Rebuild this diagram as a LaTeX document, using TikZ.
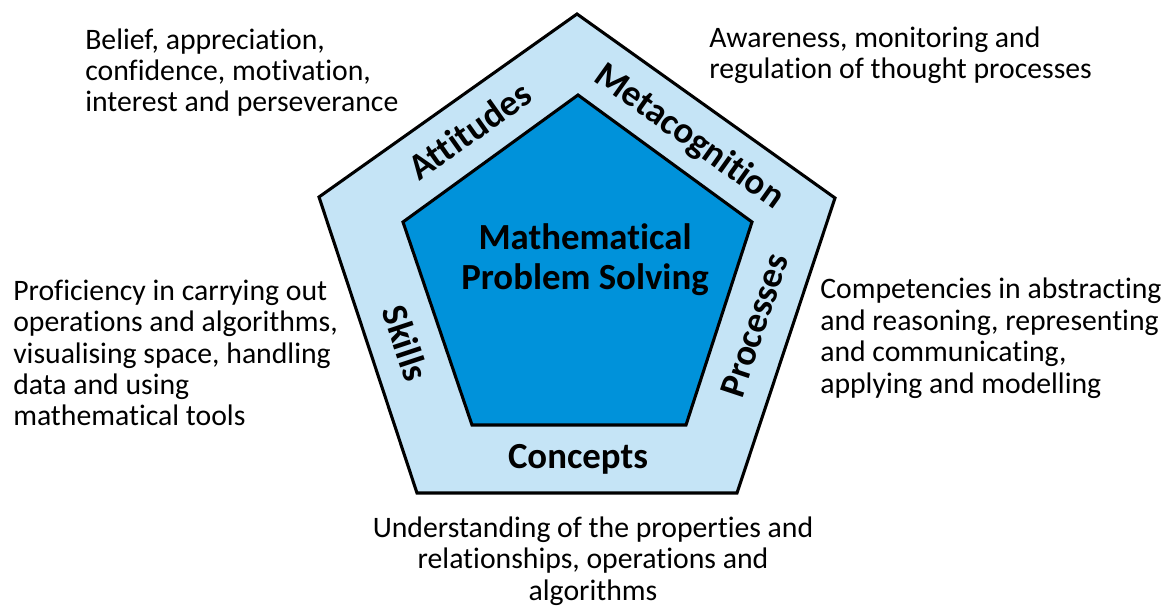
\documentclass[tikz,border=0pt]{standalone}
\usepackage{fontspec}
\setmainfont[Ligatures=NoCommon]{Carlito}
\definecolor{bandblue}{RGB}{197,228,246}
\definecolor{coreblue}{RGB}{0,146,218}
\begin{document}
\begin{tikzpicture}[x=0.75pt,y=-0.75pt,
  edge/.style={draw=black,line width=2.3pt,line join=miter},
  lbl/.style={font=\fontsize{27.6}{30}\selectfont\bfseries,inner sep=0pt,anchor=base,align=center},
  desc/.style={font=\fontsize{22.3}{23.6}\selectfont,inner sep=0pt,anchor=base west,align=left}]

\useasboundingbox (0,0) rectangle (1167,609);

% outer pentagon coordinates
\coordinate (o1) at (577,14);
\coordinate (o2) at (835,198);
\coordinate (o3) at (737,493);
\coordinate (o4) at (417,493);
\coordinate (o5) at (319,197);

% inner pentagon coordinates
\coordinate (i1) at (578,95);
\coordinate (i2) at (752,222);
\coordinate (i3) at (686,425);
\coordinate (i4) at (472,425);
\coordinate (i5) at (403,222);

% pentagons drawn
\draw [edge,fill=bandblue] (o1)--(o2)--(o3)--(o4)--(o5)--cycle;
\draw [edge,fill=coreblue] (i1)--(i2)--(i3)--(i4)--(i5)--cycle;

% band labels (base = last line)
\node [lbl] (mps) at (585,290) {Mathematical\\Problem Solving};
\node [lbl,rotate=35.3] (att) at (477,141) {Attitudes};
\node [lbl,rotate=-35.5] (meta) at (683,145) {Metacognition};
\node [lbl,rotate=-71.7] (skl) at (394,347) {Skills};
\node [lbl,rotate=71.6] (proc) at (766,329) {Processes};
\node [lbl] (conc) at (578,468) {Concepts};

% descriptions
\node [desc] (attdesc) at (85,112) {Belief, appreciation,\\confidence, motivation,\\interest and perseverance};
\node [desc] (metadesc) at (709,79) {Awareness, monitoring and\\regulation of thought processes};
\node [desc] (skldesc) at (13,426) {Proficiency in carrying out\\operations and algorithms,\\visualising space, handling\\data and using\\mathematical tools};
\node [desc] (procdesc) at (820,393) {Competencies in abstracting\\and reasoning, representing\\and communicating,\\applying and modelling};
\node [desc,anchor=base,align=center] (concdesc) at (593,600) {Understanding of the properties and\\relationships, operations and\\algorithms};
\end{tikzpicture}
\end{document}
